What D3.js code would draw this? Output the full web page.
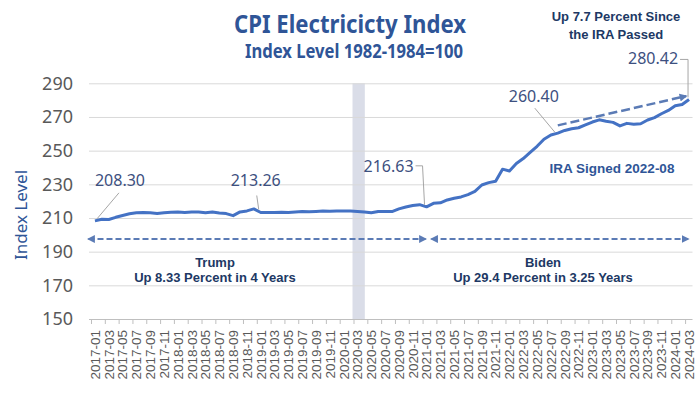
<!DOCTYPE html>
<html><head><meta charset="utf-8">
<script src="https://cdn.jsdelivr.net/npm/d3@7"></script>
<style>html,body{margin:0;padding:0;background:#fff;}svg{display:block;}</style>
</head><body>
<svg id="chart" width="700" height="394"></svg>
<script>
const months = [
"2017-01","2017-02","2017-03","2017-04","2017-05","2017-06","2017-07","2017-08","2017-09","2017-10","2017-11","2017-12",
"2018-01","2018-02","2018-03","2018-04","2018-05","2018-06","2018-07","2018-08","2018-09","2018-10","2018-11","2018-12",
"2019-01","2019-02","2019-03","2019-04","2019-05","2019-06","2019-07","2019-08","2019-09","2019-10","2019-11","2019-12",
"2020-01","2020-02","2020-03","2020-04","2020-05","2020-06","2020-07","2020-08","2020-09","2020-10","2020-11","2020-12",
"2021-01","2021-02","2021-03","2021-04","2021-05","2021-06","2021-07","2021-08","2021-09","2021-10","2021-11","2021-12",
"2022-01","2022-02","2022-03","2022-04","2022-05","2022-06","2022-07","2022-08","2022-09","2022-10","2022-11","2022-12",
"2023-01","2023-02","2023-03","2023-04","2023-05","2023-06","2023-07","2023-08","2023-09","2023-10","2023-11","2023-12",
"2024-01","2024-02","2024-03"];

const cpiElectricity = [
208.30,209.2,209.1,210.4,211.5,212.5,213.1,213.2,213.1,212.7,213.1,213.4,
213.5,213.3,213.6,213.5,213.1,213.5,212.9,212.6,211.4,213.6,214.2,215.4,
213.26,213.3,213.3,213.4,213.3,213.6,213.8,213.7,213.9,214.1,214.0,214.2,
214.1,214.1,213.9,213.6,213.1,213.8,213.9,213.8,215.4,216.5,217.4,217.9,
216.63,218.7,219.0,220.7,221.7,222.5,223.9,225.8,229.6,231.0,231.8,239.0,
237.9,242.4,245.3,249.0,252.6,256.8,259.3,260.40,262.0,263.0,263.6,265.3,
267.0,268.3,267.5,266.8,264.7,266.2,265.7,266.0,268.2,269.6,271.9,273.9,
276.7,277.4,280.42];

const xTickLabels = [
"2017-01","2017-03","2017-05","2017-07","2017-09","2017-11",
"2018-01","2018-03","2018-05","2018-07","2018-09","2018-11",
"2019-01","2019-03","2019-05","2019-07","2019-09","2019-11",
"2020-01","2020-03","2020-05","2020-07","2020-09","2020-11",
"2021-01","2021-03","2021-05","2021-07","2021-09","2021-11",
"2022-01","2022-03","2022-05","2022-07","2022-09","2022-11",
"2023-01","2023-03","2023-05","2023-07","2023-09","2023-11",
"2024-01","2024-03"];

const yTicks = [150,170,190,210,230,250,270,290];

const labelledDates = ["2017-01","2019-01","2021-01","2022-08","2024-03"];
const labelledTexts = ["208.30","213.26","216.63","260.40","280.42"];

const shadedMonths = ["2020-03","2020-04"];

const periodNames = ["Trump","Biden"];
const periodNotes = ["Up 8.33 Percent in 4 Years","Up 29.4 Percent in 3.25 Years"];
const periodStarts = ["2017-01","2021-01"];
const periodEnds = ["2021-01","2024-03"];

const titleText = "CPI Electricicty Index";
const subtitleText = "Index Level 1982-1984=100";
const yAxisTitle = "Index Level";
const iraNote = ["Up 7.7 Percent Since","the IRA Passed"];
const iraSigned = "IRA Signed 2022-08";
const iraArrowFrom = ["2022-08", 265.0];
const iraArrowTo = ["2024-03", 282.4];

// ---------- drawing ----------
(function(){
const data = months.map((m,i)=>({m, v:cpiElectricity[i]}));
const svg = d3.select("#chart");
const pL = 91.5, pR = 692.5, pT = 83.3, pB = 319;

const x = d3.scaleBand().domain(months).range([pL, pR]).padding(0);
const cx = m => x(m) + x.bandwidth()/2;
const y = d3.scaleLinear().domain([150,290]).range([pB, pT]);

const blue = "#4472C4";
const navy = "#2F5597";
const dark = "#203864";

const defs = svg.append("defs");
defs.append("marker").attr("id","ah").attr("viewBox","0 0 10 10")
  .attr("refX",8).attr("refY",5).attr("markerWidth",8).attr("markerHeight",8)
  .attr("markerUnits","userSpaceOnUse").attr("orient","auto-start-reverse")
  .append("path").attr("d","M0,0 L10,5 L0,10 z").attr("fill","#5B7BB5");

// shaded band
svg.append("rect")
  .attr("x", x(shadedMonths[0]) - 1.5)
  .attr("width", x(shadedMonths[shadedMonths.length-1]) + x.bandwidth() - x(shadedMonths[0]) - 1.5)
  .attr("y", y(290)).attr("height", y(150)-y(290))
  .attr("fill","#DADDE8");

// y axis with gridlines
const yAxis = svg.append("g").attr("transform",`translate(${pL-2.5},0)`)
  .call(d3.axisLeft(y).tickValues(yTicks).tickSize(-(pR-pL+2.5)).tickPadding(16).tickFormat(d3.format("d")));
yAxis.select(".domain").remove();
yAxis.selectAll(".tick line").attr("stroke","#D9D9D9").attr("stroke-width",1);
yAxis.selectAll(".tick").filter(d=>d===150).select("line").attr("stroke","#BFBFBF");
yAxis.selectAll(".tick text").attr("font-family","'Noto Sans', sans-serif").attr("font-size",18).attr("fill","#595959");

// x axis
const xAxis = svg.append("g").attr("transform",`translate(0,${pB})`)
  .call(d3.axisBottom(x).tickValues(xTickLabels).tickSize(0).tickPadding(0));
xAxis.select(".domain").remove();
xAxis.selectAll(".tick text")
  .attr("font-family","'Liberation Sans', Arial, sans-serif").attr("font-size",13.5).attr("fill","#595959")
  .attr("text-anchor","end").attr("dy","0.36em")
  .attr("transform","translate(0,11) rotate(-90)").attr("x",0).attr("y",0);
svg.append("g").selectAll("line").data(xTickLabels).join("line")
  .attr("x1",d=>x(d)).attr("x2",d=>x(d)).attr("y1",pB).attr("y2",pB+5)
  .attr("stroke","#BFBFBF");

// data line
svg.append("path").datum(data)
  .attr("d", d3.line().x(d=>cx(d.m)).y(d=>y(d.v)))
  .attr("fill","none").attr("stroke",blue).attr("stroke-width",3).attr("stroke-linejoin","round");

// data labels with leaders
const labelFont = "'Noto Sans', sans-serif";
const lblColor = "#3D5080";
const leader = "#A6A6A6";
const lbl = labelledDates.map((d,i)=>({d, t:labelledTexts[i], px:cx(d), py:y(cpiElectricity[months.indexOf(d)])}));
const lblLayout = [
  {dx: 25, dy:-35, path:p=>`M${p.px+24},${p.py-28} L${p.px+2},${p.py-2}`},
  {dx: -5, dy:-26, path:p=>`M${p.px-4},${p.py-17} L${p.px-2},${p.py-3}`},
  {dx:-38, dy:-35, path:p=>`M${p.px-11},${p.py-41} L${p.px-4},${p.py-41} L${p.px-2},${p.py-2}`},
  {dx:-24, dy:-31, path:p=>`M${p.px-23},${p.py-25} L${p.px-3},${p.py-1}`},
  {dx:-36, dy:-35, path:p=>`M${p.px-9},${p.py-40} L${p.px-1},${p.py-40} L${p.px-1},${p.py-2}`}
];
lbl.forEach((p,i)=>{
  const L = lblLayout[i];
  svg.append("path").attr("d",L.path(p)).attr("fill","none").attr("stroke",leader).attr("stroke-width",1);
  svg.append("text").attr("x",p.px+L.dx).attr("y",p.py+L.dy).attr("text-anchor","middle")
    .attr("font-family",labelFont).attr("font-size",16).attr("fill",lblColor).text(p.t);
});

// period arrows
const arrowY = y(197.5);
const arrows = [
  {x1: x(periodStarts[0]) - 3, x2: cx(periodEnds[0]) - 1},
  {x1: cx(periodStarts[1]) + 5, x2: cx(periodEnds[1]) - 1}
];
arrows.forEach(a=>{
  svg.append("line").attr("x1",a.x1).attr("x2",a.x2).attr("y1",arrowY).attr("y2",arrowY)
    .attr("stroke","#5B7BB5").attr("stroke-width",2).attr("stroke-dasharray","6,3")
    .attr("marker-start","url(#ah)").attr("marker-end","url(#ah)");
});
const periodCenters = [215, 543];
periodNames.forEach((n,i)=>{
  svg.append("text").attr("x",periodCenters[i]).attr("y",arrowY+28).attr("text-anchor","middle")
    .attr("font-family","'Liberation Sans', Arial, sans-serif").attr("font-weight","bold").attr("font-size",13)
    .attr("fill",dark).text(n);
  svg.append("text").attr("x",periodCenters[i]).attr("y",arrowY+43).attr("text-anchor","middle")
    .attr("font-family","'Liberation Sans', Arial, sans-serif").attr("font-weight","bold").attr("font-size",13)
    .attr("fill",dark).text(periodNotes[i]);
});

// IRA arrow
svg.append("line")
  .attr("x1",cx(iraArrowFrom[0])).attr("y1",y(iraArrowFrom[1]))
  .attr("x2",cx(iraArrowTo[0])-3).attr("y2",y(iraArrowTo[1]))
  .attr("stroke","#5B7BB5").attr("stroke-width",2.5).attr("stroke-dasharray","9,4")
  .attr("marker-end","url(#ah)");

svg.append("text").attr("x",612).attr("y",173).attr("text-anchor","middle")
  .attr("font-family","'Liberation Sans', Arial, sans-serif").attr("font-weight","bold").attr("font-size",13.5)
  .attr("fill",navy).text(iraSigned);

iraNote.forEach((t,i)=>{
  svg.append("text").attr("x",616).attr("y",21+i*18).attr("text-anchor","middle")
    .attr("font-family","'Liberation Sans', Arial, sans-serif").attr("font-weight","bold").attr("font-size",13)
    .attr("fill",dark).text(t);
});

// titles
svg.append("text").attr("x",350).attr("y",33).attr("text-anchor","middle")
  .attr("font-family","'Noto Sans', sans-serif").attr("font-weight","bold").attr("font-size",25)
  .attr("fill",navy).attr("textLength",232).attr("lengthAdjust","spacingAndGlyphs").text(titleText);
svg.append("text").attr("x",354).attr("y",58).attr("text-anchor","middle")
  .attr("font-family","'Noto Sans', sans-serif").attr("font-weight","bold").attr("font-size",19)
  .attr("fill",navy).attr("textLength",218).attr("lengthAdjust","spacingAndGlyphs").text(subtitleText);

// y axis title
svg.append("text").attr("transform","translate(27,215) rotate(-90)").attr("text-anchor","middle")
  .attr("font-family","'Noto Sans', sans-serif").attr("font-size",17).attr("fill",navy).text(yAxisTitle);
})();
</script>
</body></html>
